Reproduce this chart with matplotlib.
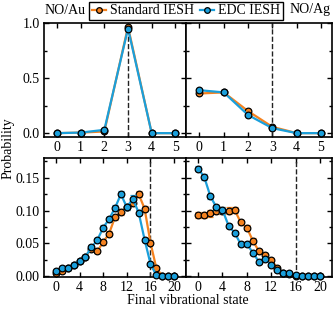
import matplotlib
matplotlib.use("Agg")
import matplotlib.pyplot as plt
import numpy as np
from matplotlib.ticker import MultipleLocator

plt.rcParams['font.family'] = ['Liberation Serif', 'DejaVu Serif']
plt.rcParams['font.size'] = 10

ORANGE = '#F5821F'
BLUE = '#1A9FDB'

# Top panels: low vibrational states
v_top = [0, 1, 2, 3, 4, 5]
au_std_top = [0.0, 0.005, 0.015, 0.965, 0.0, 0.0]
au_edc_top = [0.0, 0.005, 0.03, 0.95, 0.0, 0.0]
ag_std_top = [0.36, 0.37, 0.20, 0.057, 0.0, 0.0]
ag_edc_top = [0.39, 0.37, 0.165, 0.045, 0.0, 0.0]

# Bottom panels: full vibrational distribution
v_bot = list(range(21))
au_std = [0.005, 0.008, 0.012, 0.018, 0.023, 0.030, 0.042, 0.038, 0.052, 0.065,
          0.090, 0.098, 0.105, 0.111, 0.125, 0.103, 0.051, 0.012, 0.001, 0.0, 0.0]
au_std_err = [0.002, 0.002, 0.002, 0.002, 0.003, 0.003, 0.003, 0.003, 0.004, 0.004,
              0.004, 0.004, 0.004, 0.004, 0.005, 0.004, 0.004, 0.002, 0.001, 0.0, 0.0]
au_edc = [0.008, 0.013, 0.012, 0.018, 0.024, 0.030, 0.044, 0.055, 0.074, 0.087,
          0.104, 0.125, 0.105, 0.118, 0.097, 0.056, 0.019, 0.0015, 0.0, 0.0, 0.0]
au_edc_err = [0.002, 0.002, 0.002, 0.002, 0.003, 0.003, 0.003, 0.003, 0.004, 0.004,
              0.004, 0.005, 0.004, 0.005, 0.004, 0.003, 0.002, 0.001, 0.0, 0.0, 0.0]

ag_std = [0.093, 0.093, 0.096, 0.100, 0.100, 0.100, 0.101, 0.082, 0.074, 0.054,
          0.038, 0.032, 0.025, 0.013, 0.0055, 0.003, 0.001, 0.0005, 0.0, 0.0, 0.0]
ag_std_err = [0.005, 0.005, 0.005, 0.005, 0.005, 0.005, 0.005, 0.004, 0.004, 0.004,
              0.003, 0.003, 0.003, 0.002, 0.002, 0.001, 0.001, 0.0, 0.0, 0.0, 0.0]
ag_edc = [0.164, 0.151, 0.122, 0.105, 0.101, 0.077, 0.066, 0.049, 0.049, 0.036,
          0.022, 0.027, 0.017, 0.009, 0.0055, 0.0045, 0.002, 0.0005, 0.0005, 0.0005, 0.0005]
ag_edc_err = [0.004, 0.004, 0.004, 0.004, 0.004, 0.003, 0.003, 0.003, 0.003, 0.003,
              0.002, 0.002, 0.002, 0.002, 0.001, 0.001, 0.001, 0.0, 0.0, 0.0, 0.0]

fig = plt.figure(figsize=(3.34, 3.09), dpi=100)
L, M, R = 44/334, 186/334, 332/334
t_top, b_top = 1-23/309, 1-137/309
t_bot, b_bot = 1-158/309, 1-277/309

ax_tl = fig.add_axes([L, b_top, M-L, t_top-b_top])
ax_tr = fig.add_axes([M, b_top, R-M, t_top-b_top], sharey=ax_tl)
ax_bl = fig.add_axes([L, b_bot, M-L, t_bot-b_bot])
ax_br = fig.add_axes([M, b_bot, R-M, t_bot-b_bot], sharey=ax_bl)

mk = dict(marker='o', markersize=4.8, markeredgecolor='black', markeredgewidth=0.9,
          linewidth=1.6, clip_on=False)

def draw_top(ax, std, edc):
    ax.plot(v_top, std, color=ORANGE, label='Standard IESH', zorder=3, **mk)
    ax.plot(v_top, edc, color=BLUE, label='EDC IESH', zorder=4, **mk)
    ax.axvline(3, color='#222222', linestyle='--', linewidth=1.0, zorder=2)
    ax.set_xlim(-0.55, 5.45)
    ax.set_ylim(-0.035, 1.0)
    ax.set_xticks(v_top)
    ax.yaxis.set_major_locator(MultipleLocator(0.5))
    ax.yaxis.set_minor_locator(MultipleLocator(0.25))

def draw_bot(ax, std, std_err, edc, edc_err):
    ax.errorbar(v_bot, std, yerr=std_err, color=ORANGE, ecolor=ORANGE, elinewidth=1.0,
                capsize=2, capthick=1.0, zorder=3, **mk)
    ax.errorbar(v_bot, edc, yerr=edc_err, color=BLUE, ecolor=BLUE, elinewidth=1.0,
                capsize=2, capthick=1.0, zorder=4, **mk)
    ax.axvline(16, color='#222222', linestyle='--', linewidth=1.0, zorder=2)
    ax.set_xlim(-2, 22)
    ax.set_ylim(-0.001, 0.18)
    ax.set_xticks([0, 4, 8, 12, 16, 20])
    ax.yaxis.set_major_locator(MultipleLocator(0.05))
    ax.yaxis.set_minor_locator(MultipleLocator(0.025))

draw_top(ax_tl, au_std_top, au_edc_top)
draw_top(ax_tr, ag_std_top, ag_edc_top)
draw_bot(ax_bl, au_std, au_std_err, au_edc, au_edc_err)
draw_bot(ax_br, ag_std, ag_std_err, ag_edc, ag_edc_err)

ax_tl.set_yticks([0.0, 0.5, 1.0])
ax_tl.set_yticklabels(['0.0', '0.5', '1.0'])
ax_bl.set_yticks([0.0, 0.05, 0.10, 0.15])
ax_bl.set_yticklabels(['0.00', '0.05', '0.10', '0.15'])

for ax in (ax_tl, ax_tr, ax_bl, ax_br):
    ax.tick_params(which='both', direction='in', top=True, right=True, width=1.0,
                   labelsize=10, pad=3)
    ax.tick_params(which='major', length=3.5)
    ax.tick_params(which='minor', length=2)
    for s in ax.spines.values():
        s.set_linewidth(1.2)
for ax in (ax_tr, ax_br):
    ax.tick_params(labelleft=False)

fig.text(45/334, 1-10/309, 'NO/Au', ha='left', va='center', fontsize=10)
fig.text(331/334, 1-10/309, 'NO/Ag', ha='right', va='center', fontsize=10)

h, l = ax_tl.get_legend_handles_labels()
leg = fig.legend(h, l, loc='center', bbox_to_anchor=(M, 1-11/309), ncol=2, frameon=True,
                 fancybox=False, edgecolor='black', framealpha=1, fontsize=10,
                 handlelength=1.0, handletextpad=0.3, columnspacing=0.4, borderpad=0.2,
                 borderaxespad=0, markerscale=0.85)
leg.get_frame().set_linewidth(1.0)

fig.text(8/334, 1-148/309, 'Probability', rotation=90, ha='center', va='center', fontsize=10)
fig.text(188/334, 1-300/309, 'Final vibrational state', ha='center', va='center', fontsize=10)

fig.savefig('out.png', dpi=100)
